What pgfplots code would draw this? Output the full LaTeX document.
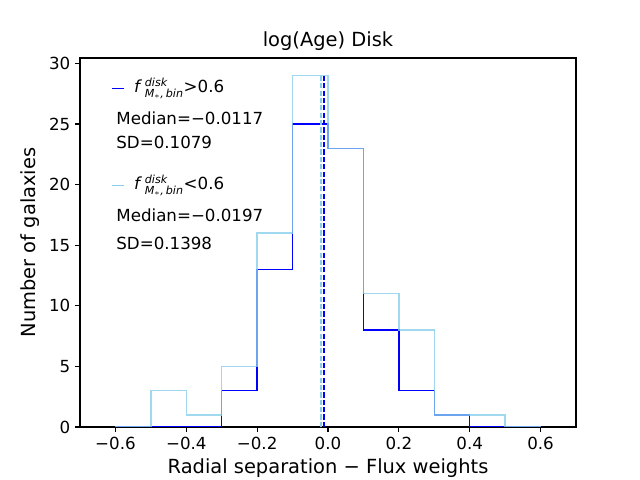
\documentclass[border=0pt]{standalone}
\usepackage{amsmath}
\usepackage{fontspec}
\setmainfont{DejaVu Sans}
\usepackage{pgfplots}
\pgfplotsset{compat=1.18}
\definecolor{skyb}{HTML}{87CEEB}
\begin{document}
\begin{tikzpicture}
\path[use as bounding box] (-57.6pt,-38.16pt) rectangle (403.2pt,307.44pt);
\begin{axis}[
  scale only axis, width=357.12pt, height=265.68pt,
  at={(0,0)}, anchor=south west,
  xmin=-0.7, xmax=0.7, ymin=0, ymax=30.45,
  xtick={-0.6,-0.4,-0.2,0,0.2,0.4,0.6},
  xticklabels={−0.6,−0.4,−0.2,0.0,0.2,0.4,0.6},
  ytick={0,5,10,15,20,25,30},
  yticklabels={0,5,10,15,20,25,30},
  tick align=outside, tick pos=left,
  major tick length=3.5pt,
  axis line style={line width=0.8pt},
  every tick/.style={black, line width=0.8pt},
  ticklabel style={font=\fontsize{12}{14}\selectfont},
  label style={font=\fontsize{14}{17}\selectfont},
  title style={font=\fontsize{14}{17}\selectfont, yshift=-4pt},
  title={log(Age) Disk},
  xlabel={Radial separation − Flux weights},
  ylabel={Number of galaxies},
]
\addplot[blue, line width=1pt, const plot mark left] coordinates {
(-0.6,0) (-0.5,0) (-0.4,0) (-0.3,3) (-0.2,13) (-0.1,25) (0,23) (0.1,8) (0.2,3) (0.3,1) (0.4,0) (0.5,0) (0.6,0)};
\addplot[skyb, line width=1pt, opacity=0.8, const plot mark left] coordinates {
(-0.6,0) (-0.5,3) (-0.4,1) (-0.3,5) (-0.2,16) (-0.1,29) (0,23) (0.1,11) (0.2,8) (0.3,1) (0.4,1) (0.5,0) (0.6,0)};
\addplot[skyb, line width=1pt, dash pattern=on 3.7pt off 1.6pt] coordinates {(-0.0197,0) (-0.0197,29)};
\addplot[blue, line width=1pt, dash pattern=on 3.7pt off 1.6pt] coordinates {(-0.0117,0) (-0.0117,29)};
\draw[blue, line width=1pt] (axis cs:-0.61,27.95) -- (axis cs:-0.576,27.95);
\draw[skyb, line width=1pt] (axis cs:-0.61,19.95) -- (axis cs:-0.576,19.95);
\node[anchor=west, inner sep=0pt, font=\fontsize{12}{14}\selectfont] at (axis cs:-0.548,27.95) {\textit{f}\,$^{\textit{disk}}_{\textit{M}_{*}\textit{,\,bin}}$>0.6};
\node[anchor=west, inner sep=0pt, font=\fontsize{12}{14}\selectfont] at (axis cs:-0.598,25.47) {Median=−0.0117};
\node[anchor=west, inner sep=0pt, font=\fontsize{12}{14}\selectfont] at (axis cs:-0.598,23.5) {SD=0.1079};
\node[anchor=west, inner sep=0pt, font=\fontsize{12}{14}\selectfont] at (axis cs:-0.548,19.95) {\textit{f}\,$^{\textit{disk}}_{\textit{M}_{*}\textit{,\,bin}}$<0.6};
\node[anchor=west, inner sep=0pt, font=\fontsize{12}{14}\selectfont] at (axis cs:-0.598,17.48) {Median=−0.0197};
\node[anchor=west, inner sep=0pt, font=\fontsize{12}{14}\selectfont] at (axis cs:-0.598,15.17) {SD=0.1398};
\end{axis}
\end{tikzpicture}
\end{document}
